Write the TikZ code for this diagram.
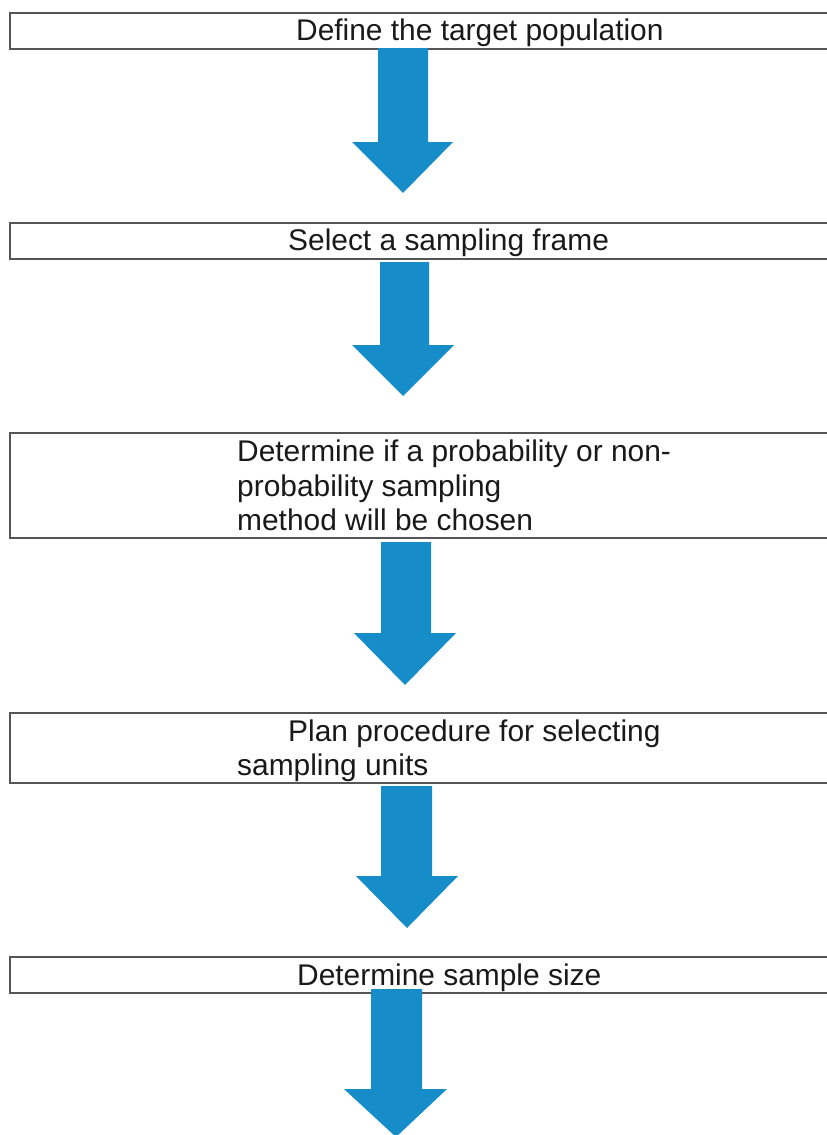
\documentclass[tikz,border=0pt]{standalone}
\usepackage{fontspec}
\setmainfont{Liberation Sans}
\definecolor{boxgray}{RGB}{85,85,85}
\definecolor{txt}{RGB}{25,25,25}
\definecolor{arrowblue}{RGB}{22,140,201}
\begin{document}
\begin{tikzpicture}[x=1pt,y=-1pt,
  box/.style={draw=boxgray, line width=1.6pt, anchor=north west, inner sep=0pt, minimum width=830pt},
  lbl/.style={anchor=base west, inner sep=0pt, text=txt, font=\fontsize{29.9}{34.5}\selectfont},
  barrow/.style={fill=arrowblue, draw=none}]
\useasboundingbox (0,0) rectangle (827,1135);
\clip (0,0) rectangle (827,1135);
% boxes
\node[box, minimum height=36pt] (b1) at (9,12) {};
\node[box, minimum height=36pt] (b2) at (9,222) {};
\node[box, minimum height=105pt] (b3) at (9,432) {};
\node[box, minimum height=70pt] (b4) at (9,712) {};
\node[box, minimum height=36pt] (b5) at (9,956) {};
% texts
\node[lbl] (t1) at (296,40) {Define the target population};
\node[lbl] (t2) at (288,250) {Select a sampling frame};
\node[lbl] (t3a) at (237,461) {Determine if a probability or non-};
\node[lbl] (t3b) at (237,496) {probability sampling};
\node[lbl] (t3c) at (237,530) {method will be chosen};
\node[lbl] (t4a) at (288,741) {Plan procedure for selecting};
\node[lbl] (t4b) at (237,775) {sampling units};
\node[lbl] (t5) at (297,985) {Determine sample size};
% block arrows
\fill[barrow] (378,48) -- (428,48) -- (428,142) -- (453,142) -- (403,193) -- (352,142) -- (378,142) -- cycle;
\fill[barrow] (380,262) -- (429,262) -- (429,345) -- (454,345) -- (403,396) -- (352,345) -- (380,345) -- cycle;
\fill[barrow] (381,542) -- (431,542) -- (431,633) -- (456,633) -- (405,685) -- (354,633) -- (381,633) -- cycle;
\fill[barrow] (381,786) -- (432,786) -- (432,876) -- (458,876) -- (407,928) -- (356,876) -- (381,876) -- cycle;
\fill[barrow] (371,989) -- (422,989) -- (422,1089) -- (447,1089) -- (396,1137) -- (344,1089) -- (371,1089) -- cycle;
\end{tikzpicture}
\end{document}
